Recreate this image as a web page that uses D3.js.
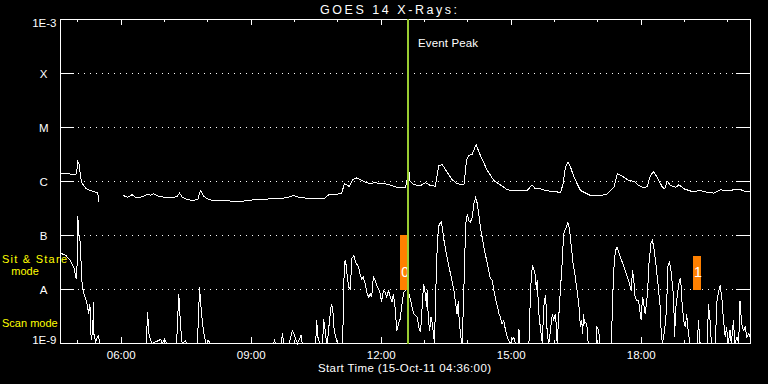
<!DOCTYPE html>
<html>
<head>
<meta charset="utf-8">
<script src="https://cdn.jsdelivr.net/npm/d3@7"></script>
<style>
  html, body { margin: 0; padding: 0; background: #000; }
  svg { display: block; }
  text { font-family: "Liberation Sans", Arial, sans-serif; }
</style>
</head>
<body>
<svg id="chart" width="768" height="384"></svg>
<script>
// ---------- data (time = decimal hour of day UTC, 15-Oct-2011; flux in W/m^2) ----------
const chartTitle = "GOES 14 X-Rays:";
const axisTitle = "Start Time (15-Oct-11 04:36:00)";
const startHour = 4.6;      // 04:36
const endHour = 20.523;     // ~20:31

const levelValues = [1e-3, 1e-4, 1e-5, 1e-6, 1e-7, 1e-8, 1e-9];
const levelLabels = ["1E-3", "X", "M", "C", "B", "A", "1E-9"];
const gridLevels = [1e-4, 1e-5, 1e-6, 1e-7, 1e-8];

// long channel (1-8 A); null = data gap
const longChannel = [
[4.62,1.41e-6],[4.72,1.42e-6],[4.76,1.41e-6],[4.90,1.32e-6],[4.97,1.39e-6],[5.00,2.35e-6],[5.04,1.98e-6],
[5.06,1.20e-6],[5.10,0.93e-6],[5.18,0.75e-6],[5.25,0.70e-6],[5.37,0.65e-6],[5.46,0.61e-6],[5.49,0.41e-6],
[5.77,null],
[6.05,0.55e-6],[6.15,0.51e-6],[6.25,0.57e-6],[6.33,0.51e-6],[6.45,0.51e-6],[6.60,0.57e-6],[6.68,0.56e-6],
[6.75,0.59e-6],[6.87,0.53e-6],[7.02,0.51e-6],[7.22,0.51e-6],[7.29,0.53e-6],[7.35,0.61e-6],[7.41,0.51e-6],
[7.52,0.46e-6],[7.68,0.445e-6],[7.77,0.47e-6],[7.83,0.68e-6],[7.91,0.53e-6],[8.02,0.46e-6],[8.14,0.445e-6],
[8.37,0.445e-6],[8.60,0.43e-6],[8.79,0.43e-6],[9.06,0.46e-6],[9.52,0.48e-6],[9.83,0.50e-6],[9.98,0.55e-6],
[10.10,0.51e-6],[10.29,0.49e-6],[10.52,0.48e-6],[10.68,0.48e-6],[10.79,0.57e-6],[10.94,0.57e-6],[11.09,0.61e-6],
[11.15,0.91e-6],[11.21,0.87e-6],[11.26,0.81e-6],[11.34,1.08e-6],[11.44,1.17e-6],[11.55,1.04e-6],[11.67,0.95e-6],
[11.78,0.91e-6],[11.86,0.97e-6],[11.94,0.91e-6],[12.09,0.91e-6],[12.25,0.84e-6],[12.40,0.76e-6],[12.56,0.76e-6],
[12.64,1.6e-6],[12.66,1.04e-6],[12.75,0.87e-6],[12.91,0.84e-6],[13.02,0.95e-6],[13.14,0.84e-6],[13.25,0.82e-6],
[13.33,1.98e-6],[13.41,2.06e-6],[13.52,1.49e-6],[13.64,1.08e-6],[13.75,0.91e-6],[13.91,0.87e-6],[13.97,2.45e-6],
[14.02,3.03e-6],[14.10,3.16e-6],[14.19,4.8e-6],[14.29,3.03e-6],[14.45,1.6e-6],[14.60,1.04e-6],[14.75,0.87e-6],
[14.91,0.70e-6],[15.14,0.68e-6],[15.37,0.68e-6],[15.48,0.87e-6],[15.56,0.73e-6],[15.68,0.73e-6],[15.79,0.68e-6],
[15.98,0.65e-6],[16.14,0.63e-6],[16.20,0.91e-6],[16.25,1.84e-6],[16.31,2.28e-6],[16.37,1.84e-6],[16.45,1.20e-6],
[16.60,0.68e-6],[16.83,0.55e-6],[17.06,0.55e-6],[17.22,0.59e-6],[17.37,0.78e-6],[17.45,1.39e-6],[17.57,1.25e-6],
[17.71,1.04e-6],[17.83,1.01e-6],[17.95,0.84e-6],[18.06,0.76e-6],[18.14,0.81e-6],[18.20,1.20e-6],[18.28,1.53e-6],
[18.37,1.20e-6],[18.49,0.78e-6],[18.54,0.73e-6],[18.60,1.01e-6],[18.68,0.84e-6],[18.80,0.78e-6],[18.87,0.87e-6],
[18.99,0.73e-6],[19.18,0.65e-6],[19.37,0.68e-6],[19.52,0.63e-6],[19.68,0.61e-6],[19.83,0.70e-6],[19.98,0.68e-6],
[20.14,0.70e-6],[20.29,0.71e-6],[20.41,0.65e-6],[20.52,0.64e-6]
];

// short channel (0.5-4 A)
const shortChannel = [
[4.60,4.7e-8],[4.72,4.3e-8],[4.83,3.4e-8],[4.91,2.5e-8],[4.96,1.6e-8],[4.99,3.4e-8],[5.00,2.25e-7],[5.02,1.09e-7],
[5.05,8.1e-8],[5.08,2.6e-8],[5.10,1.19e-8],[5.14,8.3e-9],[5.18,6.7e-9],[5.22,5.1e-9],[5.25,3.55e-9],[5.28,5.4e-9],
[5.29,1.74e-9],[5.32,1.14e-9],[5.35,2.67e-9],[5.36,5.8e-9],[5.37,1.51e-9],[5.41,1.06e-9],[5.45,1.31e-9],[5.48,1.41e-9],
[5.50,1e-9],[6.58,1e-9],[6.61,3.8e-9],[6.64,1.53e-9],[6.68,1.14e-9],[6.72,1e-9],[6.91,1.19e-9],[6.95,1e-9],
[7.00,1.19e-9],[7.05,1e-9],[7.28,1e-9],[7.29,1.62e-9],[7.33,8.3e-9],[7.35,4.08e-9],[7.39,1.31e-9],[7.41,1e-9],
[7.48,1.14e-9],[7.51,1e-9],[7.75,1e-9],[7.77,1.62e-9],[7.81,1.1e-8],[7.83,6.2e-9],[7.87,2.67e-9],[7.91,1.51e-9],
[7.95,1.06e-9],[7.97,1e-9],[8.02,1.14e-9],[8.05,1e-9],[9.52,1e-9],[9.54,1.14e-9],[9.56,1e-9],[9.70,1e-9],
[9.72,1.55e-9],[9.75,1e-9],[9.88,1e-9],[9.95,1.74e-9],[9.99,1.51e-9],[10.02,1.24e-9],[10.07,1e-9],[10.15,1.41e-9],
[10.18,1e-9],[10.49,1e-9],[10.51,2.74e-9],[10.54,1.31e-9],[10.58,1e-9],[10.65,1e-9],[10.67,2.87e-9],[10.71,1.74e-9],
[10.74,1e-9],[10.76,1e-9],[10.78,1.62e-9],[10.85,5.4e-9],[10.88,4.7e-9],[10.91,2.0e-9],[10.94,1.41e-9],[10.98,1.06e-9],
[11.02,1e-9],[11.11,1e-9],[11.13,5.06e-9],[11.15,3.2e-8],[11.18,3.44e-8],[11.21,1.95e-8],[11.25,1.1e-8],[11.29,1.03e-8],
[11.32,3.7e-8],[11.37,4.26e-8],[11.41,3.2e-8],[11.48,2.6e-8],[11.52,1.82e-8],[11.55,1.58e-8],[11.59,1.69e-8],[11.63,1.27e-8],
[11.67,8.9e-9],[11.71,7.2e-9],[11.75,8.3e-9],[11.78,7.2e-9],[11.82,1.69e-8],[11.86,1.47e-8],[11.90,1.19e-8],[11.94,1.03e-8],
[11.98,8.3e-9],[12.01,5.8e-9],[12.05,9.6e-9],[12.09,8.9e-9],[12.13,7.2e-9],[12.17,9.6e-9],[12.21,7.2e-9],[12.25,5.8e-9],
[12.28,8.3e-9],[12.32,4.7e-9],[12.36,1.74e-9],[12.40,2.32e-9],[12.44,2.87e-9],[12.48,5.4e-9],[12.52,8.9e-9],[12.56,9.6e-9],
[12.61,1.03e-8],[12.68,6.2e-9],[12.75,3.55e-9],[12.83,3.07e-9],[12.87,2.0e-9],[12.91,1.62e-9],[12.95,5.4e-9],[12.98,1.27e-8],
[13.02,8.3e-9],[13.05,4.7e-9],[13.06,9.6e-9],[13.09,2.67e-9],[13.12,1.74e-9],[13.15,3.07e-9],[13.18,2.32e-9],[13.21,1.41e-9],
[13.23,1e-9],[13.28,3.44e-8],[13.32,1.42e-7],[13.35,1.65e-7],[13.39,1.76e-7],[13.41,1.42e-7],[13.45,8.1e-8],[13.52,3.96e-8],
[13.60,1.95e-8],[13.68,9.6e-9],[13.72,5.4e-9],[13.75,3.55e-9],[13.78,6.2e-9],[13.80,2.67e-9],[13.83,1.51e-9],[13.85,1.14e-9],
[13.87,1e-9],[13.91,1.1e-8],[13.95,1.65e-7],[13.99,2.52e-7],[14.02,1.9e-7],[14.06,1.76e-7],[14.10,2.18e-7],[14.14,3.86e-7],
[14.18,5.1e-7],[14.22,3.86e-7],[14.25,2.52e-7],[14.29,1.42e-7],[14.37,6.07e-8],[14.45,2.99e-8],[14.51,1.69e-8],[14.56,1.47e-8],
[14.64,6.7e-9],[14.72,3.55e-9],[14.75,3.07e-9],[14.79,2.32e-9],[14.83,2.67e-9],[14.87,1.74e-9],[14.91,1.31e-9],[14.94,1.14e-9],
[14.98,1e-9],[15.06,1.31e-9],[15.10,1e-9],[15.16,1e-9],[15.18,1.87e-9],[15.20,1e-9],[15.41,1e-9],[15.45,1.1e-8],
[15.49,2.78e-8],[15.52,2.42e-8],[15.56,1.82e-8],[15.58,9.6e-9],[15.60,1.47e-8],[15.64,3.55e-9],[15.68,1.74e-9],[15.72,1e-9],
[15.75,4.7e-9],[15.79,7.75e-9],[15.82,3.55e-9],[15.83,1.51e-9],[15.87,1e-9],[15.95,3.55e-9],[15.98,2.67e-9],[16.02,3.55e-9],
[16.05,1.74e-9],[16.06,1e-9],[16.14,1.1e-8],[16.18,3.44e-8],[16.21,1.08e-7],[16.27,1.42e-7],[16.31,1.76e-7],[16.35,1.24e-7],
[16.39,6.07e-8],[16.43,2.99e-8],[16.48,1.69e-8],[16.52,9.6e-9],[16.56,5.4e-9],[16.60,2.0e-9],[16.63,2.67e-9],[16.65,1.51e-9],
[16.67,3.55e-9],[16.69,2.32e-9],[16.72,2.48e-9],[16.75,2.0e-9],[16.77,1.14e-9],[16.78,1e-9],[16.96,1e-9],[16.98,2.0e-9],
[17.02,1.74e-9],[17.05,1e-9],[17.31,1e-9],[17.35,9.6e-9],[17.38,3.44e-8],[17.41,5.27e-8],[17.44,6.07e-8],[17.48,4.9e-8],
[17.55,3.44e-8],[17.63,2.25e-8],[17.71,1.47e-8],[17.75,1.1e-8],[17.77,9.6e-9],[17.80,2.25e-8],[17.83,1.47e-8],[17.86,7.2e-9],
[17.90,6.2e-9],[17.94,6.2e-9],[17.98,3.55e-9],[18.00,2.67e-9],[18.03,7.2e-9],[18.05,6.2e-9],[18.09,3.55e-9],[18.13,6.2e-9],
[18.15,9.6e-9],[18.18,2.99e-8],[18.23,7.5e-8],[18.26,8.1e-8],[18.29,6.07e-8],[18.34,2.99e-8],[18.38,1.47e-8],[18.41,8.3e-9],
[18.44,4.7e-9],[18.46,1.74e-9],[18.49,1e-9],[18.54,1.74e-9],[18.59,4.7e-9],[18.61,2.59e-8],[18.65,3.2e-8],[18.68,2.59e-8],
[18.71,1.47e-8],[18.75,7.2e-9],[18.77,1.31e-9],[18.80,4.7e-9],[18.84,8.3e-9],[18.88,1.47e-8],[18.91,1.65e-8],[18.94,6.2e-9],
[18.98,2.67e-9],[19.02,2.0e-9],[19.05,3.55e-9],[19.09,1.51e-9],[19.13,1e-9],[19.30,1e-9],[19.32,2.67e-9],[19.36,1e-9],
[19.53,1e-9],[19.55,5.4e-9],[19.59,2.67e-9],[19.62,1e-9],[19.71,1e-9],[19.75,6.2e-9],[19.78,8.3e-9],[19.82,1.19e-8],
[19.86,7.2e-9],[19.90,2.67e-9],[19.94,1.31e-9],[19.97,2.0e-9],[20.01,1e-9],[20.05,1.74e-9],[20.08,1e-9],[20.13,2.67e-9],
[20.16,1e-9],[20.21,1.31e-9],[20.25,1e-9],[20.28,6.2e-9],[20.32,2.32e-9],[20.36,1.74e-9],[20.40,2.0e-9],[20.44,1.31e-9],
[20.48,1.51e-9],[20.52,1.31e-9]
];

const eventPeakHour = 12.6;           // 12:36
const markerHours = [12.54, 19.30];
const markerTops = [1e-7, 4.1e-8];
const markerBase = 1e-8;
const markerLabels = ["0", "1"];
const modeLabels = ["Sit & Stare", "mode", "Scan mode"];

// ---------- drawing ----------
const svg = d3.select("#chart");
const W = 768, H = 384;
const pL = 60, pR = 750, pT = 19, pB = 343;
const toDate = h => new Date(Date.UTC(2011, 9, 15) + h * 3600000);

const x = d3.scaleUtc().domain([toDate(startHour), toDate(endHour)]).range([pL, pR]);
const y = d3.scaleLog().domain([1e-9, 1e-3]).range([pB, pT]).clamp(true);

svg.append("rect").attr("width", W).attr("height", H).attr("fill", "#000");

// dotted grid lines
svg.append("g").selectAll("line").data(gridLevels).join("line")
  .attr("x1", pL).attr("x2", pR)
  .attr("y1", d => Math.round(y(d)) + 0.5).attr("y2", d => Math.round(y(d)) + 0.5)
  .attr("stroke", "#fff").attr("stroke-width", 1)
  .attr("stroke-dasharray", "1,5").attr("shape-rendering", "crispEdges");

function styleAxis(g) {
  g.select(".domain").remove();
  g.selectAll("line").attr("stroke", "#fff").attr("shape-rendering", "crispEdges");
  g.selectAll("text").attr("fill", "#fff").attr("font-size", 11.5)
    .attr("font-family", "'Liberation Sans', Arial, sans-serif");
}

// left / right ticks (inward)
svg.append("g").attr("transform", `translate(${pL},0)`)
  .call(d3.axisLeft(y).tickValues(levelValues).tickFormat("").tickSizeInner(-14).tickSizeOuter(0))
  .call(styleAxis);
svg.append("g").attr("transform", `translate(${pR},0)`)
  .call(d3.axisRight(y).tickValues(levelValues).tickFormat("").tickSizeInner(-14).tickSizeOuter(0))
  .call(styleAxis);

// bottom / top time ticks
svg.append("g").attr("transform", `translate(0,${pB})`)
  .call(d3.axisBottom(x).ticks(d3.utcHour.every(1)).tickFormat("").tickSizeInner(-3).tickSizeOuter(0))
  .call(styleAxis);
svg.append("g").attr("transform", `translate(0,${pB})`)
  .call(d3.axisBottom(x).ticks(d3.utcHour.every(3)).tickFormat(d3.utcFormat("%H:%M"))
    .tickSizeInner(-6).tickSizeOuter(0).tickPadding(8))
  .call(styleAxis);
svg.append("g").attr("transform", `translate(0,${pT})`)
  .call(d3.axisTop(x).ticks(d3.utcHour.every(1)).tickFormat("").tickSizeInner(-3).tickSizeOuter(0))
  .call(styleAxis);
svg.append("g").attr("transform", `translate(0,${pT})`)
  .call(d3.axisTop(x).ticks(d3.utcHour.every(3)).tickFormat("").tickSizeInner(-6).tickSizeOuter(0))
  .call(styleAxis);

// frame
svg.append("rect")
  .attr("x", pL + 0.5).attr("y", pT + 0.5)
  .attr("width", pR - pL).attr("height", pB - pT)
  .attr("fill", "none").attr("stroke", "#fff").attr("stroke-width", 1)
  .attr("shape-rendering", "crispEdges");

// level labels
svg.append("g").selectAll("text").data(levelLabels).join("text")
  .attr("x", d => d.length === 1 ? 43.7 : 56.5)
  .attr("y", (d, i) => i === 0 ? y(levelValues[i]) + 8 : (i === levelLabels.length - 1 ? y(levelValues[i]) + 1 : y(levelValues[i]) + 5))
  .attr("text-anchor", d => d.length === 1 ? "middle" : "end")
  .attr("fill", "#fff").attr("font-size", 11.5)
  .text(d => d);

// curves
const line = d3.line()
  .defined(d => d[1] != null)
  .x(d => x(toDate(d[0])) + 0.5)
  .y(d => y(d[1]) + 0.5);

svg.append("path").datum(shortChannel)
  .attr("d", line).attr("fill", "none").attr("stroke", "#fff").attr("stroke-width", 1)
  .attr("shape-rendering", "crispEdges");
svg.append("path").datum(longChannel)
  .attr("d", line).attr("fill", "none").attr("stroke", "#fff").attr("stroke-width", 1)
  .attr("shape-rendering", "crispEdges");

// orange markers
const mk = svg.append("g");
mk.selectAll("rect").data(markerHours).join("rect")
  .attr("x", d => Math.round(x(toDate(d))) - 4)
  .attr("width", 8)
  .attr("y", (d, i) => Math.round(y(markerTops[i])))
  .attr("height", (d, i) => Math.round(y(markerBase)) - Math.round(y(markerTops[i])) + 1)
  .attr("fill", "#ff8000");
mk.selectAll("text").data(markerHours).join("text")
  .attr("x", d => x(toDate(d)) + 1)
  .attr("y", 277)
  .attr("text-anchor", "middle")
  .attr("fill", "#fff").attr("font-size", 14)
  .text((d, i) => markerLabels[i]);

// event peak line
const ex = Math.round(x(toDate(eventPeakHour)));
svg.append("line")
  .attr("x1", ex + 1).attr("x2", ex + 1)
  .attr("y1", pT).attr("y2", pB + 1)
  .attr("stroke", "#9acd32").attr("stroke-width", 2)
  .attr("shape-rendering", "crispEdges");
svg.append("text").attr("x", ex + 11).attr("y", 47)
  .attr("fill", "#fff").attr("font-size", 11.5)
  .attr("textLength", 60).attr("lengthAdjust", "spacing")
  .text("Event Peak");

// titles
svg.append("text").attr("x", 320).attr("y", 14)
  .attr("fill", "#fff").attr("font-size", 12.5)
  .attr("textLength", 137).attr("lengthAdjust", "spacing")
  .text(chartTitle);
svg.append("text").attr("x", 318).attr("y", 372)
  .attr("fill", "#fff").attr("font-size", 11.5)
  .attr("textLength", 173).attr("lengthAdjust", "spacing")
  .text(axisTitle);

// mode labels
const modePos = [[2, 263, "start"], [25, 275, "middle"], [2, 327, "start"]];
const modeG = svg.append("g");
modeG.selectAll("text").data(modeLabels).join("text")
  .attr("x", (d, i) => modePos[i][0]).attr("y", (d, i) => modePos[i][1])
  .attr("text-anchor", (d, i) => modePos[i][2])
  .attr("fill", "#ffff00").attr("font-size", 11)
  .text(d => d);
modeG.select("text").attr("textLength", 65).attr("lengthAdjust", "spacing");
</script>
</body>
</html>
